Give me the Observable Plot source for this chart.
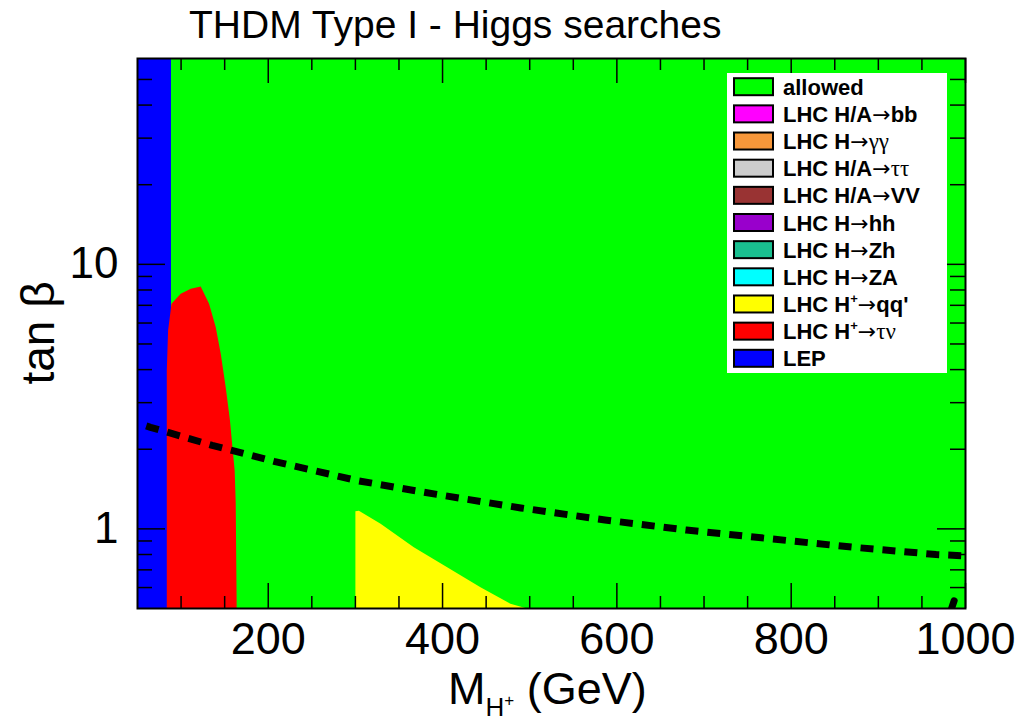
<!DOCTYPE html>
<html><head><meta charset="utf-8">
<script src="https://cdn.jsdelivr.net/npm/d3@7"></script>
<script src="https://cdn.jsdelivr.net/npm/@observablehq/plot@0.6"></script>
<style>
body{margin:0;background:#fff;}
#chart{width:1019px;height:722px;}
</style></head><body><div id="chart"></div>
<script>
// ---- data ----
const xDomain = [50, 1000];
const yDomain = [0.5, 60];
const xMajorTicks = [200, 400, 600, 800, 1000];
const xMinorTicks = [100, 150, 250, 300, 350, 450, 500, 550, 650, 700, 750, 850, 900, 950];
const yMajorTicks = [1, 10];
const yMinorTicks = [0.6, 0.7, 0.8, 0.9, 2, 3, 4, 5, 6, 7, 8, 9, 20, 30, 40, 50];

// LEP excluded band (mass range)
const lepX = [50, 89];
// LHC H+ -> tau nu excluded region (outline, GeV, tan beta)
const tauNuX = [83.6, 83.6, 85.1, 89.0, 99.6, 111.1, 122.5, 132.1, 139.7, 145.5, 151.2, 156.1, 158.9, 161.5, 162.7, 163.8];
const tauNuY = [0.5, 3.97, 5.62, 7.10, 7.74, 8.09, 8.25, 7.10, 5.79, 4.59, 3.43, 2.57, 2.04, 1.66, 1.25, 0.5];
// LHC H+ -> qq' excluded region
const qqX = [300, 300, 304, 328.9, 367.0, 405.3, 443.5, 477.9, 497];
const qqY = [0.5, 1.166, 1.17, 1.045, 0.852, 0.716, 0.602, 0.521, 0.5];
// dashed contour
const dashX = [60, 64.9, 135.7, 206.6, 303.1, 393.3, 489.8, 586.4, 679.8, 776.3, 869.7, 966.3, 1000];
const dashY = [2.45, 2.42, 2.07, 1.80, 1.52, 1.35, 1.20, 1.08, 0.99, 0.917, 0.853, 0.80, 0.79];
const blobX = [984, 987];
const blobY = [0.5, 0.535];

const legendLabels = ["allowed", "LHC H/A→bb", "LHC H→γγ", "LHC H/A→ττ", "LHC H/A→VV", "LHC H→hh",
  "LHC H→Zh", "LHC H→ZA", "LHC H^+→qq'", "LHC H^+→τν", "LEP"];
const legendColors = ["#00ff00", "#ff00ff", "#f7973a", "#cccccc", "#993333", "#9900cc",
  "#19bf90", "#00ffff", "#ffff00", "#ff0000", "#0000ff"];

// ---- build ----
const allowedColor = legendColors[0];
const lepColor = legendColors[10];
const tauColor = legendColors[9];
const qqColor = legendColors[8];
const tauData = tauNuX.map((x, i) => ({x, y: tauNuY[i]}));
const qqData = qqX.map((x, i) => ({x, y: qqY[i]}));
const dashData = dashX.map((x, i) => ({x, y: dashY[i]}));
const blobData = blobX.map((x, i) => ({x, y: blobY[i]}));

const W = 1019, H = 722, mL = 137, mR = 54, mT = 58, mB = 114;
const fw = W - mL - mR, fh = H - mT - mB;

const plot = Plot.plot({
  width: W, height: H,
  marginLeft: mL, marginRight: mR, marginTop: mT, marginBottom: mB,
  style: {fontFamily: "Liberation Sans, Arial, sans-serif", fontSize: "45px", background: "white", color: "black"},
  x: {domain: xDomain},
  y: {type: "log", domain: yDomain},
  marks: [
    Plot.rect([0], {x1: xDomain[0], x2: xDomain[1], y1: yDomain[0], y2: yDomain[1], fill: allowedColor}),
    Plot.rect([0], {x1: lepX[0], x2: lepX[1], y1: yDomain[0], y2: yDomain[1], fill: lepColor}),
    Plot.line(tauData, {x: "x", y: "y", fill: tauColor, stroke: "none", clip: true}),
    Plot.line(qqData, {x: "x", y: "y", fill: qqColor, stroke: "none", clip: true}),
    Plot.line(dashData, {x: "x", y: "y", stroke: "black", strokeWidth: 7, strokeDasharray: "13,9", strokeLinecap: "butt", clip: true}),
    Plot.line(blobData, {x: "x", y: "y", stroke: "black", strokeWidth: 7, clip: true}),
    // ticks inside the frame
    Plot.tickX(xMajorTicks, {x: d => d, stroke: "black", strokeWidth: 1.5, insetTop: fh - 25}),
    Plot.tickX(xMinorTicks, {x: d => d, stroke: "black", strokeWidth: 1.5, insetTop: fh - 12}),
    Plot.tickX(xMajorTicks, {x: d => d, stroke: "black", strokeWidth: 1.5, insetBottom: fh - 25}),
    Plot.tickX(xMinorTicks, {x: d => d, stroke: "black", strokeWidth: 1.5, insetBottom: fh - 12}),
    Plot.tickY(yMajorTicks, {y: d => d, stroke: "black", strokeWidth: 1.5, insetRight: fw - 28}),
    Plot.tickY(yMinorTicks, {y: d => d, stroke: "black", strokeWidth: 1.5, insetRight: fw - 15}),
    Plot.tickY(yMajorTicks, {y: d => d, stroke: "black", strokeWidth: 1.5, insetLeft: fw - 28}),
    Plot.tickY(yMinorTicks, {y: d => d, stroke: "black", strokeWidth: 1.5, insetLeft: fw - 15}),
    Plot.axisX({ticks: xMajorTicks, tickSize: 0, tickPadding: 14, label: null, tickFormat: d => String(d)}),
    Plot.axisY({ticks: yMajorTicks, tickSize: 0, tickPadding: 19, label: null, fontSize: 44, tickFormat: d => String(d)}),
    Plot.frame({stroke: "black", strokeWidth: 2})
  ]
});
document.getElementById("chart").appendChild(plot);

const svg = d3.select(plot);
const SANS = "Liberation Sans, Arial, sans-serif";
const SERIF = "Liberation Serif, DejaVu Serif, serif";

function rich(textSel, segs) {
  let cur = 0;
  segs.forEach(s => {
    const off = s.off || 0;
    textSel.append("tspan").text(s.t)
      .attr("font-size", s.size).attr("font-family", s.family || SANS)
      .attr("font-weight", s.weight || "normal")
      .attr("dy", off - cur);
    cur = off;
  });
}

// title
svg.append("text").attr("x", 189).attr("y", 38).attr("text-anchor", "start")
  .attr("font-size", 39).attr("font-family", SANS)
  .attr("fill", "black").text("THDM Type I - Higgs searches");

// x label
rich(svg.append("text").attr("x", 448).attr("y", 704).attr("text-anchor", "start").attr("fill", "black"), [
  {t: "M", size: 45},
  {t: "H", size: 26, off: 12},
  {t: "+", size: 17, off: 2},
  {t: " (GeV)", size: 45, off: 0}
]);

// y label
svg.append("text").attr("transform", "translate(54,333) rotate(-90)").attr("text-anchor", "middle")
  .attr("font-size", 46).attr("font-family", SANS).attr("fill", "black").text("tan β");

// legend
const lg = svg.append("g");
lg.append("rect").attr("x", 727).attr("y", 73).attr("width", 220).attr("height", 300).attr("fill", "white");
legendLabels.forEach((lab, i) => {
  const cy = 86.7 + i * 27.16;
  lg.append("rect").attr("x", 734).attr("y", cy - 8.5).attr("width", 39).attr("height", 17)
    .attr("fill", legendColors[i]).attr("stroke", "black").attr("stroke-width", 2);
  const txt = lg.append("text").attr("x", 783).attr("y", cy + 8).attr("text-anchor", "start").attr("fill", "black");
  const segs = [];
  const re = /(\^\+)|(→)|([γτν]+)|([^→γτν^]+)/g;
  let m;
  while ((m = re.exec(lab))) {
    if (m[1]) segs.push({t: "+", size: 13, weight: "bold", off: -9});
    else if (m[2]) segs.push({t: "→", size: 22, family: "DejaVu Sans", weight: "normal", off: 0});
    else if (m[3]) segs.push({t: m[3], size: 23, family: SERIF, off: 0});
    else segs.push({t: m[4], size: 22, weight: "bold", off: 0});
  }
  rich(txt, segs);
});
</script></body></html>
